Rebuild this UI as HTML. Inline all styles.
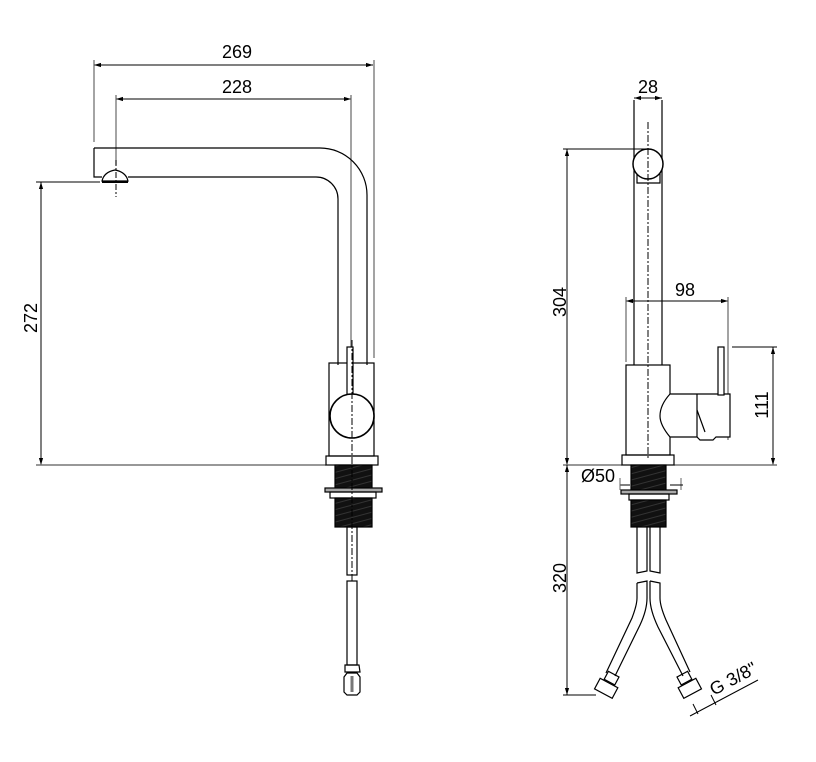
<!DOCTYPE html>
<html><head><meta charset="utf-8"><style>
html,body{margin:0;padding:0;background:#fff;}
svg{display:block}
text{font-family:"Liberation Sans",Arial,sans-serif;font-size:18px;fill:#000}
</style></head><body>
<svg width="816" height="762" viewBox="0 0 816 762" xmlns="http://www.w3.org/2000/svg">
<defs>
<marker id="a" viewBox="0 0 10 10" refX="10" refY="5" markerWidth="7" markerHeight="7" orient="auto-start-reverse"><path d="M0,2 L10,5 L0,8 z" fill="#000"/></marker>
<pattern id="th" width="6" height="6" patternUnits="userSpaceOnUse" patternTransform="rotate(-15)"><rect width="6" height="6" fill="#111"/><line x1="0" y1="3" x2="6" y2="3" stroke="#333" stroke-width="1"/></pattern>
</defs>
<g fill="none" stroke="#000" stroke-width="1.2">
<line x1="94" y1="65" x2="373" y2="65" marker-start="url(#a)" marker-end="url(#a)" stroke-width="1"/>
<line x1="94" y1="60" x2="94" y2="142" stroke="#666" stroke-width="1.2"/>
<line x1="374" y1="60" x2="374" y2="358" stroke="#666" stroke-width="1.2"/>
<line x1="116" y1="99" x2="351" y2="99" marker-start="url(#a)" marker-end="url(#a)" stroke-width="1"/>
<line x1="116" y1="95" x2="116" y2="165" stroke="#666" stroke-width="1.2"/>
<line x1="351" y1="95" x2="351" y2="348" stroke="#666" stroke-width="1.2"/>
<line x1="41" y1="182" x2="41" y2="465" marker-start="url(#a)" marker-end="url(#a)" stroke-width="1"/>
<line x1="36" y1="182" x2="100" y2="182" stroke-width="1"/>
<line x1="36" y1="465" x2="326" y2="465" stroke="#777" stroke-width="1.5"/>
<path d="M94,148 H320 A47,47 0 0 1 367,195 V365"/>
<path d="M94,148 V177 H102"/>
<path d="M128,177 H316 A22,22 0 0 1 338,199 V365"/>
<path d="M102,181 Q104,172 115,170 Q126,172 128,181 Z" fill="#fff"/>
<line x1="102" y1="182" x2="128" y2="182" stroke-width="2"/>
<line x1="116" y1="160" x2="116" y2="197" stroke-dasharray="6,2,2,2" stroke-width="1"/>
<rect x="329" y="363" width="45" height="93"/>
<rect x="347" y="347" width="6" height="70" fill="#fff"/>
<circle cx="352" cy="416" r="22" fill="#fff" stroke-width="1.6"/>
<rect x="326" y="456" width="52" height="9"/>
<rect x="335" y="465" width="37" height="24" fill="url(#th)"/>
<rect x="325" y="488" width="57" height="4" fill="#aaa"/>
<rect x="330" y="492" width="46" height="6"/>
<rect x="335" y="498" width="37" height="29" fill="url(#th)"/>
<rect x="347" y="527" width="10" height="48"/>
<rect x="347" y="581" width="10" height="84"/>
<path d="M345,665 H359 L360,672 H345 Z"/>
<path d="M344,677 L347,673 H357 L360,677 V692 L357,695 H347 L344,692 Z"/>
<line x1="352" y1="676" x2="352" y2="692" stroke="#777" stroke-width="3"/>
<line x1="352" y1="340" x2="352" y2="582" stroke-dasharray="7,2,2,2" stroke-width="1"/>

<line x1="634" y1="98" x2="662" y2="98" marker-start="url(#a)" marker-end="url(#a)" stroke-width="1"/>
<line x1="567" y1="149" x2="567" y2="465" marker-start="url(#a)" marker-end="url(#a)" stroke-width="1"/>
<line x1="563" y1="149" x2="645" y2="149" stroke-width="1"/>
<line x1="626" y1="301" x2="728" y2="301" marker-start="url(#a)" marker-end="url(#a)" stroke-width="1"/>
<line x1="626" y1="297" x2="626" y2="362" stroke="#666"/>
<line x1="728" y1="297" x2="728" y2="440" stroke="#666"/>
<line x1="773" y1="347" x2="773" y2="465" marker-start="url(#a)" marker-end="url(#a)" stroke-width="1"/>
<line x1="732" y1="347" x2="777" y2="347" stroke-width="1"/>
<line x1="563" y1="465" x2="622" y2="465" stroke="#777" stroke-width="1.5"/>
<line x1="674" y1="465" x2="777" y2="465" stroke="#777" stroke-width="1.5"/>
<line x1="567" y1="465" x2="567" y2="695" marker-start="url(#a)" marker-end="url(#a)" stroke-width="1"/>
<line x1="563" y1="695" x2="596" y2="695" stroke-width="1"/>
<line x1="620" y1="485" x2="630" y2="485" stroke-width="1"/>
<line x1="620" y1="478" x2="620" y2="490" stroke="#666" stroke-width="1"/>
<line x1="681" y1="478" x2="681" y2="490" stroke="#666" stroke-width="1"/>
<line x1="670" y1="485" x2="683" y2="485" stroke-width="1"/>
<line x1="634" y1="100" x2="634" y2="365"/>
<line x1="662" y1="100" x2="662" y2="365"/>
<path d="M637,172 V183 H660 V172"/>
<circle cx="648" cy="164" r="15" fill="#fff" stroke-width="1.5"/>
<line x1="648" y1="122" x2="648" y2="460" stroke-dasharray="7,2,2,2" stroke-width="1"/>
<rect x="626" y="365" width="44" height="90" fill="none"/>
<path d="M670,394 H730 V437 H716 L713,440 H700 L697,437 H670 Q660,425 660,416 Q660,405 670,394 Z" fill="#fff"/>
<line x1="697" y1="394" x2="697" y2="437"/>
<path d="M697,410 L705,432"/>
<rect x="718" y="347" width="6" height="48" fill="#fff"/>
<rect x="622" y="455" width="52" height="10"/>
<rect x="631" y="465" width="35" height="25" fill="url(#th)"/>
<rect x="621" y="490" width="56" height="4" fill="#aaa"/>
<rect x="629" y="494" width="40" height="6"/>
<rect x="631" y="500" width="35" height="27" fill="url(#th)"/>
<path d="M637,527 V573 L647,571 V527"/>
<path d="M650,527 V571 L660,573 V527"/>
<path d="M637,583 L647,581 V598 Q647,610 640,625 L615,676"/>
<path d="M637,583 V598 Q637,605 632,618 L606,673"/>
<path d="M650,581 L660,583 V598 Q660,606 666,620 L690,672"/>
<path d="M650,581 V598 Q650,610 658,627 L683,676"/>
<g transform="translate(609,683) rotate(28)"><rect x="-6" y="-10" width="12" height="9"/><rect x="-10" y="0" width="20" height="12"/></g>
<g transform="translate(687,683) rotate(-28)"><rect x="-6" y="-10" width="12" height="9"/><rect x="-10" y="0" width="20" height="12"/></g>
<line x1="690" y1="716" x2="758" y2="680" stroke-width="1"/>
<line x1="693" y1="704" x2="698" y2="714" stroke-width="1"/>
<line x1="711" y1="695" x2="716" y2="705" stroke-width="1"/>
</g>
<text x="237" y="58" text-anchor="middle">269</text>
<text x="237" y="93" text-anchor="middle">228</text>
<text transform="translate(37,318) rotate(-90)" text-anchor="middle">272</text>
<text x="648" y="93" text-anchor="middle">28</text>
<text transform="translate(566,302) rotate(-90)" text-anchor="middle">304</text>
<text x="685" y="296" text-anchor="middle">98</text>
<text transform="translate(768,405) rotate(-90)" text-anchor="middle">111</text>
<text x="598" y="482" text-anchor="middle">Ø50</text>
<text transform="translate(566,578) rotate(-90)" text-anchor="middle">320</text>
<text transform="translate(736,684) rotate(-28)" text-anchor="middle">G 3/8"</text>
</svg>
</body></html>
